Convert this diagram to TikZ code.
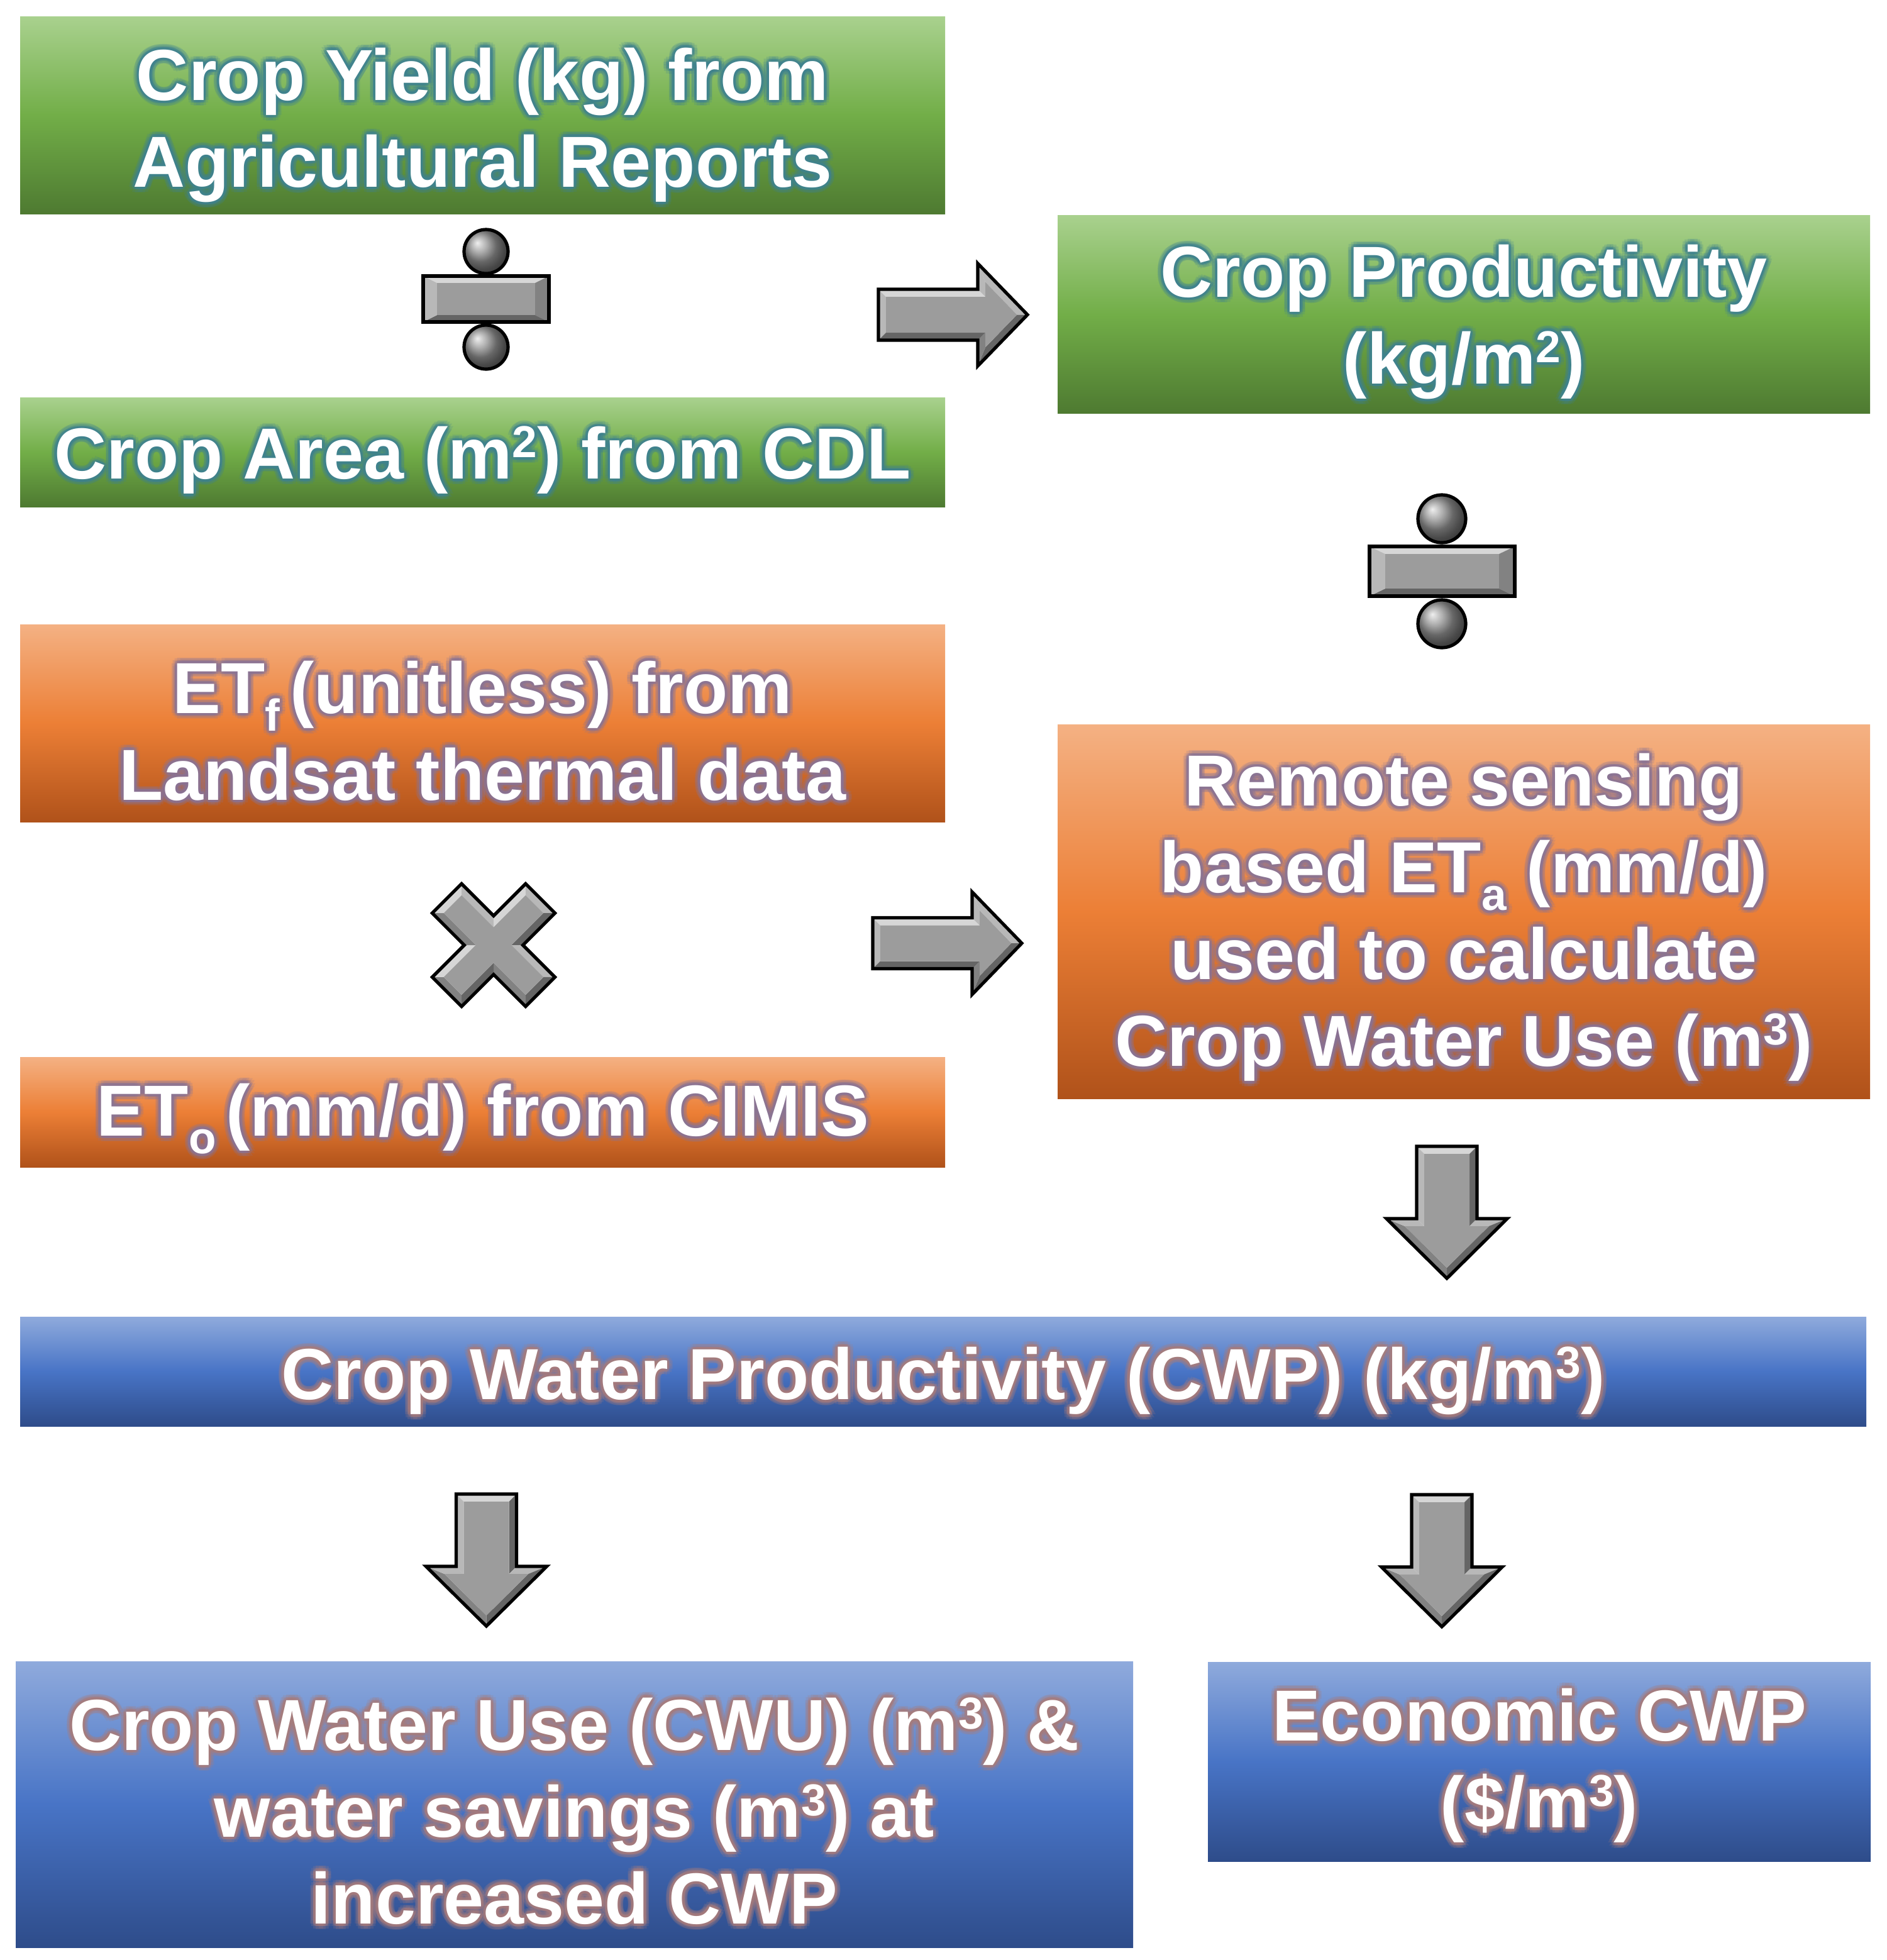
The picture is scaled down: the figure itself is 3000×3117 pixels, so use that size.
\documentclass[tikz,border=0pt]{standalone}
\usepackage{fontspec}
\setmainfont{Liberation Sans}
\usetikzlibrary{calc}

\definecolor{gTop}{HTML}{A9D18E}
\definecolor{gMid}{HTML}{72AE48}
\definecolor{gBot}{HTML}{4E7A31}
\definecolor{oTop}{HTML}{F4B183}
\definecolor{oMid}{HTML}{EC7F36}
\definecolor{oBot}{HTML}{B0521A}
\definecolor{bTop}{HTML}{8FAADC}
\definecolor{bMid}{HTML}{4874C6}
\definecolor{bBot}{HTML}{2E4C8A}
\definecolor{gGlow}{HTML}{3F8290}
\definecolor{oGlow}{HTML}{8A7496}
\definecolor{bGlow}{HTML}{A87C7C}
\definecolor{fA}{HTML}{D6D6D6}
\definecolor{fB}{HTML}{B8B8B8}
\definecolor{fC}{HTML}{9C9C9C}
\definecolor{fD}{HTML}{828282}
\definecolor{fE}{HTML}{656565}

\newcommand\sps[1]{\raisebox{8.5pt}{\fontsize{17.8pt}{17.8pt}\selectfont #1}}
\newcommand\sbs[1]{\raisebox{-7pt}{\fontsize{17.8pt}{17.8pt}\selectfont #1}}

\tikzset{
  x=0.25pt, y=-0.25pt,
  txt/.style={font=\bfseries\fontsize{28.75pt}{34.5pt}\selectfont, align=center, inner sep=0pt},
  gbox/.style={rectangle, inner sep=0pt, draw=none, top color=gTop, bottom color=gBot, middle color=gMid},
  obox/.style={rectangle, inner sep=0pt, draw=none, top color=oTop, bottom color=oBot, middle color=oMid},
  bbox/.style={rectangle, inner sep=0pt, draw=none, top color=bTop, bottom color=bBot, middle color=bMid},
  outline/.style={draw=black, line width=1.3pt, line join=miter},
}

\newcommand\mkbox[6]{%
  \pgfmathsetmacro\bw{(#5-#3)*0.25}%
  \pgfmathsetmacro\bh{(#6-#4)*0.25}%
  \node[#2, minimum width=\bw pt, minimum height=\bh pt] (#1) at ({(#3+#5)/2},{(#4+#6)/2}) {};%
}

\newcommand\glowtext[5]{%
  \foreach \ang [count=\k] in {0,30,...,330}{%
    \node[txt, text=#4, opacity=0.2] (#1-o\k) at ($(#2,#3)+(\ang:9)$) {#5};%
    \node[txt, text=#4, opacity=0.33] (#1-i\k) at ($(#2,#3)+(\ang:4.5)$) {#5};%
  }%
  \node[txt, text=white] (#1) at (#2,#3) {#5};%
}

\newcommand\bevel[3]{%
  \foreach \a/\b/\c in {#2}{\fill[\c] (o\a)--(o\b)--(i\b)--(i\a)--cycle;}%
  \fill[#3] (i1) \foreach \j in {2,...,#1}{--(i\j)} --cycle;%
  \draw[outline] (o1) \foreach \j in {2,...,#1}{--(o\j)} --cycle;%
}

\newcommand\rarrowpts{%
  \coordinate (o1) at (0,-40.5); \coordinate (o2) at (158,-40.5); \coordinate (o3) at (158,-81.5);
  \coordinate (o4) at (237,0); \coordinate (o5) at (158,81.5); \coordinate (o6) at (158,40.5);
  \coordinate (o7) at (0,40.5);
  \coordinate (i1) at (12,-28.5); \coordinate (i2) at (170,-28.5); \coordinate (i3) at (170,-51.9);
  \coordinate (i4) at (220.3,0); \coordinate (i5) at (170,51.9); \coordinate (i6) at (170,28.5);
  \coordinate (i7) at (12,28.5);
}
\newcommand\darrowpts{%
  \coordinate (o1) at (0,-48); \coordinate (o2) at (115,-48); \coordinate (o3) at (115,-96);
  \coordinate (o4) at (210,0); \coordinate (o5) at (115,96); \coordinate (o6) at (115,48);
  \coordinate (o7) at (0,48);
  \coordinate (i1) at (12,-36); \coordinate (i2) at (127,-36); \coordinate (i3) at (127,-66.8);
  \coordinate (i4) at (193.1,0); \coordinate (i5) at (127,66.8); \coordinate (i6) at (127,36);
  \coordinate (i7) at (12,36);
}
\newcommand\rarrow{\rarrowpts\bevel{7}{7/1/fB,1/2/fA,2/3/fB,3/4/fB,4/5/fE,5/6/fD,6/7/fE}{fC}}
\newcommand\darrow{\darrowpts\bevel{7}{7/1/fA,1/2/fE,2/3/fB,3/4/fE,4/5/fD,5/6/fB,6/7/fB}{fC}}

\begin{document}
\begin{tikzpicture}
\useasboundingbox (0,0) rectangle (3000,3117);
\fill[white] (0,0) rectangle (3000,3117);

% boxes
\mkbox{yield}{gbox}{32}{26}{1503}{340}
\mkbox{area}{gbox}{32}{632}{1503}{806}
\mkbox{prod}{gbox}{1682}{342}{2974}{657}
\mkbox{etf}{obox}{32}{993}{1503}{1307}
\mkbox{eto}{obox}{32}{1681}{1503}{1856}
\mkbox{remote}{obox}{1682}{1152}{2974}{1747}
\mkbox{cwp}{bbox}{32}{2094}{2968}{2268}
\mkbox{cwu}{bbox}{25}{2642}{1802}{3097}
\mkbox{econ}{bbox}{1921}{2643}{2975}{2960}

% texts
\glowtext{yieldT}{767.5}{199}{gGlow}{Crop Yield (kg) from\\Agricultural Reports}
\glowtext{areaT}{767.5}{732}{gGlow}{Crop Area (m\sps{2}) from CDL}
\glowtext{prodT}{2328}{512}{gGlow}{Crop Productivity\\(kg/m\sps{2})}
\glowtext{etfT}{767.5}{1162}{oGlow}{ET\sbs{f}\hspace{4pt}(unitless) from\\Landsat thermal data}
\glowtext{etoT}{767.5}{1779}{oGlow}{ET\sbs{o}\hspace{4pt}(mm/d) from CIMIS}
\glowtext{remoteT}{2328}{1459}{oGlow}{Remote sensing\\based ET\sbs{a} (mm/d)\\used to calculate\\Crop Water Use (m\sps{3})}
\glowtext{cwpT}{1500}{2196}{bGlow}{Crop Water Productivity (CWP) (kg/m\sps{3})}
\glowtext{cwuT}{913.5}{2880}{bGlow}{Crop Water Use (CWU) (m\sps{3}) \&\\water savings (m\sps{3}) at\\increased CWP}
\glowtext{econT}{2448}{2808}{bGlow}{Economic CWP\\(\$/m\sps{3})}

% right arrows
\begin{scope}[shift={(1397,500.5)}]
  \rarrow
\end{scope}
\begin{scope}[shift={(1388,1500)}]
  \rarrow
\end{scope}

% down arrows
\begin{scope}[shift={(2301,1823)}, rotate=-90]
  \darrow
\end{scope}
\begin{scope}[shift={(773.5,2376)}, rotate=-90]
  \darrow
\end{scope}
\begin{scope}[shift={(2293,2377)}, rotate=-90]
  \darrow
\end{scope}

% divide sign 1
\coordinate (o1) at (673,439); \coordinate (o2) at (873,439);
\coordinate (o3) at (873,512); \coordinate (o4) at (673,512);
\coordinate (i1) at (695,450); \coordinate (i2) at (851,450);
\coordinate (i3) at (851,501); \coordinate (i4) at (695,501);
\bevel{4}{1/2/fA,2/3/fD,3/4/fE,4/1/fB}{fC}
\shade[ball color=gray!85] (773,400) circle (8.75pt);
\draw[outline] (773,400) circle (8.75pt);
\shade[ball color=gray!85] (773,552) circle (8.75pt);
\draw[outline] (773,552) circle (8.75pt);

% divide sign 2
\coordinate (o1) at (2178,869); \coordinate (o2) at (2409,869);
\coordinate (o3) at (2409,948); \coordinate (o4) at (2178,948);
\coordinate (i1) at (2203,881); \coordinate (i2) at (2384,881);
\coordinate (i3) at (2384,936); \coordinate (i4) at (2203,936);
\bevel{4}{1/2/fA,2/3/fD,3/4/fE,4/1/fB}{fC}
\shade[ball color=gray!85] (2293,825) circle (9.5pt);
\draw[outline] (2293,825) circle (9.5pt);
\shade[ball color=gray!85] (2293,992) circle (9.5pt);
\draw[outline] (2293,992) circle (9.5pt);

% multiply sign
\begin{scope}[shift={(785,1503)}, rotate=45]
  \coordinate (o1) at (105,-33); \coordinate (o2) at (105,33); \coordinate (o3) at (33,33);
  \coordinate (o4) at (33,105); \coordinate (o5) at (-33,105); \coordinate (o6) at (-33,33);
  \coordinate (o7) at (-105,33); \coordinate (o8) at (-105,-33); \coordinate (o9) at (-33,-33);
  \coordinate (o10) at (-33,-105); \coordinate (o11) at (33,-105); \coordinate (o12) at (33,-33);
  \coordinate (i1) at (92,-20); \coordinate (i2) at (92,20); \coordinate (i3) at (20,20);
  \coordinate (i4) at (20,92); \coordinate (i5) at (-20,92); \coordinate (i6) at (-20,20);
  \coordinate (i7) at (-92,20); \coordinate (i8) at (-92,-20); \coordinate (i9) at (-20,-20);
  \coordinate (i10) at (-20,-92); \coordinate (i11) at (20,-92); \coordinate (i12) at (20,-20);
  \bevel{12}{1/2/fB,2/3/fE,3/4/fB,4/5/fE,5/6/fD,6/7/fE,7/8/fD,8/9/fA,9/10/fD,10/11/fA,11/12/fB,12/1/fA}{fC}
\end{scope}
\end{tikzpicture}
\end{document}
